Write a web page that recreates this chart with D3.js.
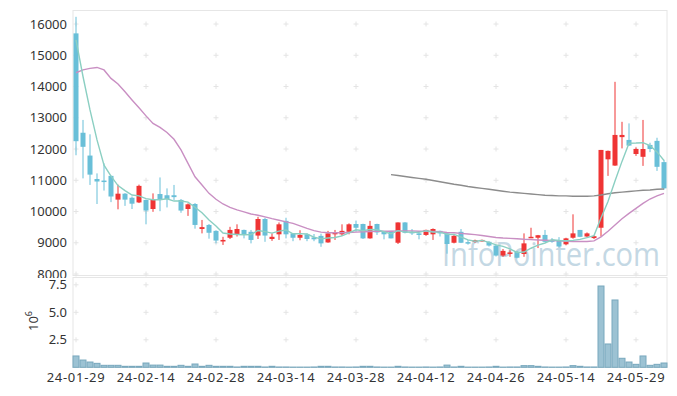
<!DOCTYPE html>
<html>
<head>
<meta charset="utf-8">
<script src="https://cdn.jsdelivr.net/npm/d3@7"></script>
<style>
  body { margin: 0; background: #fff; }
  svg { display: block; font-family: "Noto Sans", sans-serif; }
</style>
</head>
<body>
<svg id="chart" width="677" height="396"></svg>
<script>
// trading days shown on the chart
const dates = [
    '24-01-29','24-01-30','24-01-31','24-02-01','24-02-02','24-02-05','24-02-06','24-02-07','24-02-08','24-02-13',
    '24-02-14','24-02-15','24-02-16','24-02-19','24-02-20','24-02-21','24-02-22','24-02-23','24-02-26','24-02-27',
    '24-02-28','24-02-29','24-03-04','24-03-05','24-03-06','24-03-07','24-03-08','24-03-11','24-03-12','24-03-13',
    '24-03-14','24-03-15','24-03-18','24-03-19','24-03-20','24-03-21','24-03-22','24-03-25','24-03-26','24-03-27',
    '24-03-28','24-03-29','24-04-01','24-04-02','24-04-03','24-04-04','24-04-05','24-04-08','24-04-09','24-04-11',
    '24-04-12','24-04-15','24-04-16','24-04-17','24-04-18','24-04-19','24-04-22','24-04-23','24-04-24','24-04-25',
    '24-04-26','24-04-29','24-04-30','24-05-02','24-05-03','24-05-07','24-05-08','24-05-09','24-05-10','24-05-13',
    '24-05-14','24-05-16','24-05-17','24-05-20','24-05-21','24-05-22','24-05-23','24-05-24','24-05-27','24-05-28',
    '24-05-29','24-05-30','24-05-31','24-06-03','24-06-04'
]
const opens = [
    15700,12520,11790,11040,10990,11140,10380,10570,10440,10290,
    10370,10080,10560,10520,10520,10370,10080,10240,9440,9570,
    9380,9040,9160,9280,9410,9350,9230,9760,9120,9270,
    9700,9300,9160,9270,9170,9220,9010,9270,9270,9350,
    9600,9600,9140,9600,9350,9380,9000,9650,9350,9300,
    9250,9270,9380,9300,9000,9350,9020,9030,9050,9030,
    8910,8590,8650,8710,8640,9160,9160,9250,9090,9090,
    8950,9160,9410,9200,9150,9480,11670,11470,12380,12290,
    11840,11750,12130,12260,11580
]
const highs = [
    16230,12930,12470,11220,11540,11150,10860,10590,10480,10860,
    10380,10580,11090,10740,10850,10400,10260,10270,9730,9600,
    9400,9190,9510,9590,9420,9410,9830,9800,9300,9650,
    9800,9310,9400,9300,9280,9290,9380,9410,9590,9620,
    9710,9610,9700,9610,9360,9380,9650,9660,9440,9310,
    9420,9460,9390,9310,9260,9440,9090,9100,9100,9050,
    8940,8800,8760,8740,9300,9480,9250,9410,9150,9180,
    9160,9910,9410,9330,9230,11970,11950,14150,12870,12820,
    12050,12930,12200,12360,11650
]
const lows = [
    11800,11060,10850,10240,10670,10300,10070,10180,10080,10270,
    9590,9990,10010,10130,10370,9960,9860,9450,9300,9130,
    8980,8930,9120,9200,9140,8980,9120,9030,9060,9090,
    9140,9050,9080,9050,9050,8870,9000,9090,9220,9270,
    9350,9120,9130,9250,9110,9140,8960,9300,9250,9110,
    9220,9090,9200,8650,8980,8990,8940,9000,9040,8880,
    8560,8550,8550,8500,8550,9150,8830,9020,9000,8850,
    8920,9130,9180,9170,9120,9200,11140,11460,12020,12100,
    11780,11460,11900,11300,10700
]
const closes = [
    12250,12070,11180,10960,10960,10480,10570,10380,10250,10820,
    10030,10390,10390,10400,10460,10030,10230,9570,9500,9320,
    9070,9090,9410,9440,9270,9090,9760,9230,9190,9590,
    9270,9160,9250,9120,9110,8980,9300,9330,9380,9590,
    9480,9140,9540,9330,9270,9140,9650,9320,9300,9250,
    9410,9440,9300,8960,9220,9000,8990,9080,9090,8910,
    8590,8740,8690,8520,8980,9190,9240,9030,9030,8880,
    9140,9300,9190,9300,9210,11970,11940,12450,12450,12110,
    12000,12000,12000,11430,10740
]
// volume in millions of shares
const volumes = [
    1.03,0.66,0.48,0.36,0.18,0.18,0.18,0.09,0.09,0.09,
    0.39,0.20,0.20,0.09,0.09,0.18,0.09,0.30,0.09,0.18,
    0.09,0.09,0.09,0.03,0.09,0.09,0.09,0.03,0.09,0.03,
    0.03,0.02,0.02,0.02,0.03,0.09,0.09,0.03,0.03,0.02,
    0.03,0.09,0.09,0.03,0.02,0.02,0.09,0.03,0.02,0.02,
    0.03,0.02,0.03,0.20,0.03,0.09,0.02,0.02,0.02,0.03,
    0.09,0.02,0.03,0.03,0.15,0.15,0.09,0.03,0.02,0.02,
    0.03,0.15,0.09,0.03,0.03,7.39,2.12,6.12,0.82,0.48,
    0.27,1.03,0.18,0.27,0.39
]
// moving averages as drawn (short, middle, long)
const ma5 = [
    15490,14320,13250,12290,11484,11130,10830,10670,10528,10500,
    10410,10374,10376,10406,10334,10334,10302,10138,9958,9730,
    9538,9310,9278,9266,9256,9260,9394,9358,9308,9372,
    9408,9288,9292,9278,9182,9124,9152,9168,9220,9316,
    9416,9384,9426,9416,9352,9284,9386,9342,9336,9332,
    9386,9344,9340,9272,9266,9184,9094,9050,9076,9014,
    8932,8882,8804,8690,8704,8824,8924,8992,9094,9074,
    9064,9076,9108,9162,9228,9794,10322,10974,11604,12184,
    12190,12202,12112,11908,11634
]
const ma20 = [
    14440,14530,14580,14610,14530,14260,14080,13830,13570,13320,
    13060,12820,12690,12530,12310,11970,11540,11110,10850,10580,
    10390,10240,10130,10050,9990,9920,9880,9830,9770,9720,
    9670,9620,9540,9460,9390,9340,9320,9320,9320,9330,
    9340,9350,9360,9370,9370,9370,9380,9380,9380,9370,
    9370,9360,9350,9330,9320,9300,9280,9260,9230,9200,
    9170,9150,9140,9130,9110,9100,9090,9080,9070,9060,
    9050,9040,9040,9040,9060,9190,9370,9570,9770,9940,
    10100,10260,10400,10500,10580
]
const ma60 = [
    null,null,null,null,null,null,null,null,null,null,
    null,null,null,null,null,null,null,null,null,null,
    null,null,null,null,null,null,null,null,null,null,
    null,null,null,null,null,null,null,null,null,null,
    null,null,null,null,null,11180,11150,11120,11090,11060,
    11030,10990,10950,10910,10870,10840,10800,10770,10740,10710,
    10680,10650,10620,10600,10580,10560,10540,10520,10510,10500,
    10500,10490,10490,10490,10500,10530,10570,10600,10620,10640,
    10660,10680,10690,10710,10720
]
const xTickLabels = ['24-01-29','24-02-14','24-02-28','24-03-14','24-03-28','24-04-12','24-04-26','24-05-14','24-05-29']
const priceTicks = [8000,9000,10000,11000,12000,13000,14000,15000,16000]
const volumeTicks = [2.5,5.0,7.5]

const UP = '#ef3434'
const DOWN = '#69bfd8'

const svg = d3.select('#chart')

const x = d3.scaleBand().domain(dates).range([72.5, 667.5]).padding(0)
const cx = d => x(d) + x.bandwidth() / 2
const y = d3.scaleLinear().domain([8000, 16000]).range([274, 24])
const yv = d3.scaleLinear().domain([0, 7.5]).range([367.3, 284.8])

const candles = dates.map((d, i) => ({
    date: d, open: opens[i], high: highs[i], low: lows[i], close: closes[i], volume: volumes[i]
}))

// price panel frame
svg.append('rect')
    .attr('x', 73).attr('y', 10.5).attr('width', 594).attr('height', 265)
    .attr('fill', '#fff').attr('stroke', '#e6e6e6')

// grid crosses at tick intersections
function crosses(g, yScale, ticks) {
    const pts = []
    xTickLabels.forEach(d => ticks.forEach(t => pts.push([cx(d), yScale(t)])))
    g.selectAll('path.cross')
        .data(pts)
        .enter()
        .append('path')
        .attr('class', 'cross')
        .attr('d', p => `M${p[0] - 2.5},${p[1]}H${p[0] + 2.5}M${p[0]},${p[1] - 2.5}V${p[1] + 2.5}`)
        .attr('stroke', '#e4e4e4')
        .attr('stroke-width', 1)
}
crosses(svg.append('g'), y, priceTicks)

// watermark
svg.append('text')
    .attr('x', 442).attr('y', 266)
    .attr('font-family', '"Open Sans", sans-serif')
    .attr('font-size', 32)
    .attr('textLength', 218)
    .attr('lengthAdjust', 'spacingAndGlyphs')
    .attr('fill', '#c4d8e4')
    .text('InfoPointer.com')

// candles
const cg = svg.append('g')
cg.selectAll('line.wick')
    .data(candles)
    .enter()
    .append('line')
    .attr('class', 'wick')
    .attr('x1', d => cx(d.date)).attr('x2', d => cx(d.date))
    .attr('y1', d => y(d.high)).attr('y2', d => y(d.low))
    .attr('stroke', d => d.close >= d.open ? UP : DOWN)
    .attr('stroke-width', 1)
cg.selectAll('rect.body')
    .data(candles)
    .enter()
    .append('rect')
    .attr('class', 'body')
    .attr('x', d => cx(d.date) - 2.5)
    .attr('width', 5)
    .attr('y', d => y(Math.max(d.open, d.close)))
    .attr('height', d => Math.max(1.5, Math.abs(y(d.open) - y(d.close))))
    .attr('fill', d => d.close >= d.open ? UP : DOWN)

// moving average lines
function maLine(values, color) {
    const line = d3.line()
        .defined(d => d[1] != null)
        .x(d => cx(d[0]))
        .y(d => y(d[1]))
    svg.append('path')
        .datum(dates.map((d, i) => [d, values[i]]))
        .attr('d', line)
        .attr('fill', 'none')
        .attr('stroke', color)
        .attr('stroke-width', 1.4)
}
maLine(ma60, '#8c8c8c')
maLine(ma20, '#c98fc3')
maLine(ma5, '#8bcfc2')

// price axis
svg.append('g')
    .attr('transform', 'translate(73,0)')
    .call(d3.axisLeft(y).tickValues(priceTicks).tickSize(0).tickPadding(6).tickFormat(d3.format('d')))
    .call(g => g.select('.domain').remove())
    .call(g => g.selectAll('text').attr('font-size', 13).attr('fill', '#333').attr('font-family', '"Noto Sans", sans-serif'))

// volume panel (drawn over the bottom of the price panel)
svg.append('rect')
    .attr('x', 0).attr('y', 278).attr('width', 72).attr('height', 5)
    .attr('fill', '#fff')
svg.append('rect')
    .attr('x', 73).attr('y', 277.5).attr('width', 594).attr('height', 90)
    .attr('fill', '#fff').attr('stroke', '#e6e6e6')
crosses(svg.append('g'), yv, volumeTicks)

svg.append('g')
    .selectAll('rect')
    .data(candles)
    .enter()
    .append('rect')
    .attr('x', d => x(d.date) + 0.5)
    .attr('width', x.bandwidth() - 1)
    .attr('y', d => yv(d.volume))
    .attr('height', d => Math.max(0, yv(0) - yv(d.volume)))
    .attr('fill', '#9cc2d3')
    .attr('stroke', '#78a8bd')
    .attr('stroke-width', 1)

svg.append('g')
    .attr('transform', 'translate(73,0)')
    .call(d3.axisLeft(yv).tickValues(volumeTicks).tickSize(0).tickPadding(6).tickFormat(d3.format('.1f')))
    .call(g => g.select('.domain').remove())
    .call(g => g.selectAll('text').attr('font-size', 13).attr('fill', '#333').attr('font-family', '"Noto Sans", sans-serif'))

const unit = svg.append('text')
    .attr('transform', 'translate(37.5,321) rotate(-90)')
    .attr('text-anchor', 'middle')
    .attr('font-size', 13)
    .attr('fill', '#333')
unit.append('tspan').text('10')
unit.append('tspan').attr('dy', -6).attr('font-size', 9).text('6')

// date axis
svg.append('g')
    .attr('transform', 'translate(0,367.5)')
    .call(d3.axisBottom(x).tickValues(xTickLabels).tickSize(0).tickPadding(5))
    .call(g => g.select('.domain').remove())
    .call(g => g.selectAll('text').attr('font-size', 13).attr('fill', '#333')
        .attr('letter-spacing', 0.7).attr('font-family', '"Noto Sans", sans-serif'))
</script>
</body>
</html>
